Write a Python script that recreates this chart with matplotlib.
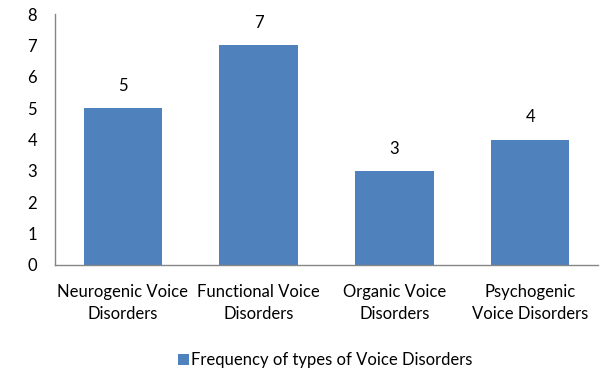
import matplotlib
matplotlib.use("Agg")
import matplotlib.pyplot as plt
from matplotlib.patches import Patch

categories = ["Neurogenic Voice\nDisorders", "Functional Voice\nDisorders",
              "Organic Voice\nDisorders", "Psychogenic\nVoice Disorders"]
values = [5, 7, 3, 4]
series_name = "Frequency of types of Voice Disorders"
yticks = [0, 1, 2, 3, 4, 5, 6, 7, 8]

bar_color = "#4F81BD"
axis_color = "#868686"
fs = 12

plt.rcParams["font.family"] = ["Lato", "DejaVu Sans"]

fig = plt.figure(figsize=(6.08, 3.70), dpi=100)
ax = fig.add_axes([0.0905, 0.2838, 0.893, 0.678])

x = list(range(len(categories)))
ax.bar(x, values, width=0.58, color=bar_color, zorder=2)
for xi, v in zip(x, values):
    ax.text(xi, v + 0.45, str(v), ha="center", va="bottom", fontsize=fs, color="#000000")

ax.set_xlim(-0.5, len(categories) - 0.5)
ax.set_ylim(0, 8)
ax.set_yticks(yticks)
ax.set_yticklabels([str(t) for t in yticks], fontsize=fs)
ax.set_xticks(x)
ax.set_xticklabels(categories, fontsize=fs, linespacing=1.45)
ax.tick_params(axis="x", length=0, pad=14)
ax.tick_params(axis="y", length=0, pad=13)

for side in ["top", "right"]:
    ax.spines[side].set_visible(False)
for side in ["left", "bottom"]:
    ax.spines[side].set_color(axis_color)
    ax.spines[side].set_linewidth(1.0)

handle = Patch(facecolor=bar_color, edgecolor="none")
fig.legend([handle], [series_name], loc="center", bbox_to_anchor=(0.535, 0.027),
           frameon=False, fontsize=fs, handlelength=0.65, handleheight=0.65,
           handletextpad=0.15)

fig.savefig("out.png", dpi=100)
